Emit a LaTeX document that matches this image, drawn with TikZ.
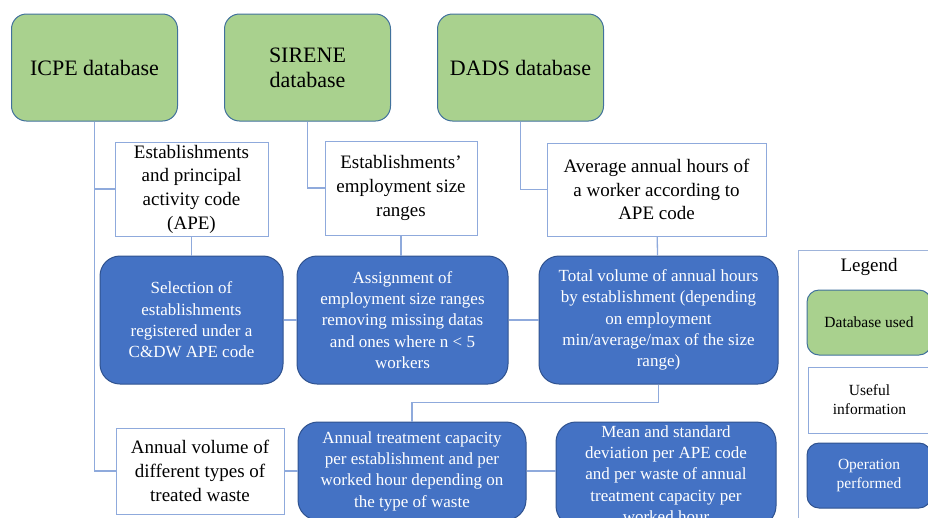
\documentclass[tikz,border=0pt]{standalone}
\usepackage{fontspec}
\setmainfont{Liberation Serif}
\usetikzlibrary{positioning}
\definecolor{dbgreen}{HTML}{A9D18E}
\definecolor{dbedge}{HTML}{41719C}
\definecolor{opblue}{HTML}{4472C4}
\definecolor{opedge}{HTML}{2F528F}
\definecolor{linkblue}{HTML}{8FAADC}
\definecolor{legframe}{HTML}{9FB4DA}
\tikzset{db node/.style={rectangle,rounded corners=15pt,fill=dbgreen,draw=dbedge,line width=1pt,minimum width=166pt,minimum height=107pt,inner sep=0pt,align=center,font=\fontsize{22}{25}\selectfont},
         info node/.style={rectangle,fill=white,draw=linkblue,line width=1pt,inner sep=0pt,align=center,font=\fontsize{19}{23.7}\selectfont},
         op node/.style={rectangle,rounded corners=20pt,fill=opblue,draw=opedge,line width=1pt,inner sep=0pt,align=center,text=white,font=\fontsize{17}{21.3}\selectfont},
         link/.style={draw=linkblue,line width=1.3pt},
            }
\begin{document}
\begin{tikzpicture}[x=1pt,y=-1pt]
    \useasboundingbox (0,0) rectangle (928,517);
    \node[db node] (icpe) at (94.5,67.5) {ICPE database};
    \node[db node] (sirene) [right =46pt of icpe] {SIRENE\\database};
    \node[db node] (dads) [right =46pt of sirene] {DADS database};

    \node[info node,minimum width=153pt,minimum height=94pt] (estab) at (191.5,189) {Establishments\\and principal\\activity code\\(APE)};
    \node[info node,minimum width=152pt,minimum height=94pt] (sizes) at (401,188) {Establishments’\\employment size\\ranges};
    \node[info node,minimum width=219pt,minimum height=93pt] (hours) at (656.5,189.5) {Average annual hours of\\a worker according to\\APE code};

    \node[op node,minimum width=183pt,minimum height=128pt] (select) at (191.5,320) {Selection of\\establishments\\registered under a\\C\&DW APE code};
    \node[op node,minimum width=211pt,minimum height=128pt] (assign) [right =13pt of select] {Assignment of\\employment size ranges\\removing missing datas\\and ones where n < 5\\workers};
    \node[op node,minimum width=239pt,minimum height=128pt] (total) [right =30pt of assign] {Total volume of annual hours\\by establishment (depending\\on employment\\min/average/max of the size\\range)};

    \node[info node,minimum width=168pt,minimum height=86pt] (volume) at (200,471) {Annual volume of\\different types of\\treated waste};
    \node[op node,minimum width=228pt,minimum height=98pt] (capacity) [right =13pt of volume] {Annual treatment capacity\\per establishment and per\\worked hour depending on\\the type of waste};
    \node[op node,minimum width=220pt,minimum height=104pt] (meanstd) at (666,474) {Mean and standard\\deviation per APE code\\and per waste of annual\\treatment capacity per\\worked hour};

    \node[draw=legframe,line width=1pt,minimum width=150pt,minimum height=290pt] (legend) at (873,395) {};
    \node[font=\fontsize{19}{23}\selectfont] (legtitle) at (869,267) {Legend};
    \node[db node,rounded corners=12pt,minimum width=124pt,minimum height=65pt,font=\fontsize{15.5}{19}\selectfont] (legdb) at (869,322.5) {Database used};
    \node[info node,minimum width=123pt,minimum height=66pt,font=\fontsize{15.5}{19}\selectfont] (leginfo) at (869.5,400) {Useful\\information};
    \node[op node,rounded corners=12pt,minimum width=124pt,minimum height=65pt,font=\fontsize{15.5}{19}\selectfont] (legop) at (869,475.5) {Operation\\performed};

    \draw[link] (icpe.south) |- (volume.west);
    \draw[link] (icpe.south |- estab.west) -- (estab.west);
    \draw[link] (sirene.south) |- (sizes.west);
    \draw[link] (dads.south) |- (hours.west);
    \draw[link] (total.south) -- ++(0,18) -| (capacity.north);
    \draw[link] (capacity.east) -- (capacity.east -| meanstd.west);

    \path[link]
    (estab) edge node {} (select)
    (sizes.south) edge node {} (sizes.south |- assign.north)
    (hours) edge node {} (total)
    (select) edge node {} (assign)
    (assign) edge node {} (total)
    (volume) edge node {} (capacity)
    ;
    %%
\end{tikzpicture}
\end{document}
